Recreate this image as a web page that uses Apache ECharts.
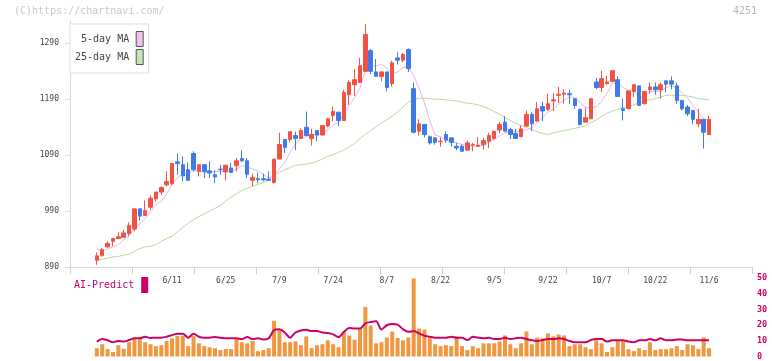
<!DOCTYPE html>
<html><head><meta charset="utf-8">
<script src="https://cdn.jsdelivr.net/npm/echarts@6/dist/echarts.min.js"></script>
<style>html,body{margin:0;padding:0;background:#fff}#c{width:772px;height:361px}</style>
</head><body><div id="c"></div>
<script>
// ---- data ----
const tickLabels = ['6/11','6/25','7/9','7/24','8/7','8/22','9/5','9/22','10/7','10/22','11/6'];
const tickIdx = [14,24,34,44,54,64,74,84,94,104,114];
const priceTicks = [890,990,1090,1190,1290];

const open = [902,910,926,936,941,943,950,958,994,982,
997,1012,1024,1037,1039,1078,1073,1064,1093,1061,
1073,1062,1055,1065,1060,1067,1071,1084,1080,1045,
1048,1048,1047,1041,1083,1118,1118,1125,1120,1140,
1120,1134,1126,1142,1161,1167,1152,1198,1216,1220,
1240,1277,1239,1231,1239,1218,1264,1260,1279,1209,
1133,1145,1123,1121,1114,1127,1121,1106,1106,1099,
1108,1106,1109,1115,1120,1135,1149,1136,1129,1123,
1142,1163,1151,1177,1172,1187,1197,1199,1200,1191,
1172,1149,1155,1221,1211,1218,1222,1225,1173,1173,
1204,1214,1182,1207,1212,1207,1223,1223,1214,1188,
1176,1170,1146,1154,1127];
const close = [910,921,932,941,944,951,964,994,981,991,
1013,1024,1032,1043,1075,1075,1053,1045,1064,1073,
1061,1058,1051,1064,1072,1059,1080,1080,1056,1050,
1046,1046,1045,1083,1109,1104,1132,1120,1134,1125,
1127,1126,1143,1155,1168,1152,1202,1220,1225,1250,
1306,1240,1231,1239,1211,1255,1260,1270,1245,1131,
1146,1127,1112,1113,1115,1117,1113,1103,1097,1112,
1109,1108,1116,1125,1133,1145,1133,1127,1120,1137,
1163,1146,1173,1169,1182,1189,1199,1201,1198,1179,
1145,1157,1191,1211,1227,1221,1241,1195,1170,1205,
1216,1179,1204,1212,1207,1216,1217,1217,1188,1173,
1164,1154,1154,1131,1154];
const low = [894,910,924,927,941,943,945,954,973,982,
992,1007,1019,1034,1037,1055,1043,1045,1061,1052,
1049,1049,1040,1055,1045,1059,1061,1078,1049,1034,
1040,1043,1045,1039,1083,1094,1113,1099,1120,1125,
1107,1115,1126,1140,1151,1142,1152,1180,1196,1220,
1240,1235,1230,1222,1204,1213,1252,1256,1239,1129,
1125,1122,1109,1109,1105,1112,1105,1099,1097,1099,
1097,1105,1100,1103,1118,1129,1133,1119,1120,1123,
1142,1133,1151,1151,1169,1169,1183,1182,1182,1173,
1143,1149,1155,1208,1203,1216,1220,1194,1152,1173,
1194,1179,1181,1200,1198,1191,1203,1208,1182,1170,
1160,1145,1140,1102,1127];
const high = [916,924,936,941,952,957,970,994,994,1009,
1018,1024,1034,1061,1075,1093,1088,1077,1097,1073,
1073,1079,1063,1073,1073,1076,1085,1099,1085,1057,
1059,1057,1061,1083,1130,1118,1132,1132,1138,1168,
1137,1134,1143,1157,1177,1167,1207,1224,1244,1264,
1325,1280,1262,1239,1239,1259,1274,1273,1281,1220,
1154,1145,1125,1121,1122,1133,1121,1112,1109,1116,
1112,1122,1121,1130,1133,1149,1160,1139,1137,1143,
1170,1167,1185,1185,1200,1201,1212,1208,1207,1191,
1173,1175,1191,1228,1241,1232,1241,1231,1191,1205,
1216,1214,1205,1220,1220,1220,1223,1231,1220,1188,
1180,1170,1173,1155,1160];
const ma5 = [922,920,922,926,930,938,946,959,967,976,
989,1001,1008,1021,1037,1050,1056,1058,1062,1062,
1059,1060,1061,1061,1061,1061,1065,1071,1069,1065,
1062,1056,1049,1054,1066,1077,1095,1110,1120,1123,
1128,1126,1131,1135,1144,1149,1164,1179,1193,1210,
1241,1248,1250,1253,1245,1235,1239,1247,1248,1232,
1210,1184,1152,1126,1123,1117,1114,1112,1109,1108,
1107,1106,1108,1114,1118,1125,1130,1133,1132,1132,
1136,1139,1148,1158,1167,1172,1182,1188,1194,1193,
1184,1176,1174,1177,1186,1201,1218,1219,1211,1206,
1205,1193,1195,1203,1204,1204,1211,1214,1209,1202,
1192,1179,1167,1155,1151];
const ma25 = [902,904,906,908,909,911,913,918,923,926,
927,930,936,941,945,953,961,968,975,980,
985,990,995,1000,1008,1015,1021,1027,1031,1034,
1038,1041,1046,1053,1059,1064,1068,1072,1073,1074,
1076,1079,1083,1088,1091,1095,1099,1105,1111,1120,
1127,1134,1141,1148,1153,1160,1167,1176,1185,1190,
1192,1192,1191,1190,1190,1189,1188,1187,1185,1183,
1182,1180,1177,1173,1168,1163,1157,1152,1147,1143,
1140,1136,1132,1129,1127,1130,1132,1134,1136,1138,
1140,1143,1148,1153,1159,1165,1169,1172,1175,1177,
1180,1184,1187,1189,1191,1194,1197,1197,1197,1197,
1196,1194,1191,1190,1189];
const volume = [5.3,7.8,4.7,2.8,7.2,4.9,9.1,11.1,11.1,9.1,
7.8,6.6,7.2,9.9,11.6,13.0,13.2,6.6,13.0,8.4,
6.6,5.9,5.3,4.1,4.7,4.7,11.1,9.1,8.4,9.9,
3.4,4.1,5.3,22.8,16.8,9.1,9.1,9.6,7.2,12.8,
5.3,7.2,7.8,10.3,7.8,5.9,15.7,13.4,10.7,17.8,
31.6,19.7,8.4,9.1,12.1,15.9,11.8,10.3,12.1,49.7,
17.8,17.2,11.6,7.8,6.6,7.2,6.6,12.8,6.6,4.1,
6.6,5.3,8.4,8.4,8.4,9.6,13.4,7.8,5.3,8.4,
15.9,7.8,12.1,11.6,14.7,12.8,14.0,13.4,6.6,7.8,
7.8,5.9,4.7,10.3,8.4,2.8,5.9,10.3,10.3,4.7,
3.4,5.3,4.1,9.1,4.1,4.7,4.7,5.3,6.6,4.1,
7.8,7.2,4.7,12.1,5.3];
const aiPredict = [9.5,11.1,10.3,9.1,9.9,9.5,10.5,11.6,11.6,12.6,
11.8,12.0,12.0,12.6,13.6,14.5,14.5,12.0,14.5,12.6,
12.0,12.0,12.4,12.0,11.6,11.6,11.6,11.1,12.4,11.1,
11.6,10.8,11.6,16.8,17.4,15.3,12.0,15.3,16.6,17.0,
16.2,16.2,15.3,14.9,14.1,12.4,15.7,18.2,17.8,17.8,
21.1,22.0,22.4,17.2,19.9,20.7,20.3,17.4,15.7,16.2,
14.7,13.2,12.6,12.0,12.0,12.0,12.6,12.0,12.0,10.5,
12.6,12.0,11.6,12.0,11.1,11.1,12.0,11.1,11.6,12.0,
11.1,10.3,9.9,10.5,11.1,11.1,11.6,11.1,9.9,9.1,
9.1,9.1,10.5,11.1,11.1,9.5,10.3,10.3,10.3,9.5,
9.1,10.3,10.3,11.1,10.3,11.6,10.3,10.3,10.8,10.8,
10.3,10.3,10.3,10.3,10.3];

// ---- build ----
const FONT = 'DejaVu Sans Mono';
const PAD_L = 5, PAD_R = 8;
const N = open.length;
const cats = [];
for (let i = 0; i < PAD_L + N + PAD_R; i++) cats.push('');
tickIdx.forEach((d, j) => { cats[PAD_L + d] = tickLabels[j]; });
const kData = open.map((o, i) => [PAD_L + i, o, close[i], low[i], high[i]]);
const pair = a => a.map((v, i) => [PAD_L + i, v]);

const UP = '#f25243', DOWN = '#3f7ae9', AI = '#cc0066', AXIS = '#d8d8d8';
const chart = echarts.init(document.getElementById('c'), null, {renderer: 'canvas'});
chart.setOption({
  animation: false,
  backgroundColor: '#fff',
  textStyle: {fontFamily: FONT},
  graphic: [
    {type: 'text', left: 14, top: 6, style: {text: '(C)https://chartnavi.com/', fill: '#c8c8c8', font: '10px "DejaVu Sans Mono"'}},
    {type: 'text', right: 15, top: 6, style: {text: '4251', fill: '#b4b4b4', font: '10px "DejaVu Sans Mono"'}}
  ],
  grid: [
    {left: 70, right: 20, top: 21, height: 246},
    {left: 70, right: 20, top: 278, height: 80}
  ],
  legend: [
    {
      left: 70, top: 24, orient: 'vertical', align: 'right', selectedMode: false,
      itemWidth: 7, itemHeight: 15, itemGap: 2, padding: [7, 5, 8, 5],
      borderColor: '#dddddd', borderWidth: 1, backgroundColor: '#fff',
      textStyle: {fontFamily: FONT, fontSize: 10, color: '#444', padding: [0, 2, 0, 0]},
      data: [
        {name: '5-day MA', icon: 'rect', itemStyle: {color: '#f0c0f0', borderColor: '#555', borderWidth: 1}},
        {name: '25-day MA', icon: 'rect', itemStyle: {color: '#c4e4b4', borderColor: '#555', borderWidth: 1}}
      ]
    },
    {
      left: 74, top: 277, orient: 'vertical', align: 'right', selectedMode: false,
      itemWidth: 7, itemHeight: 16, padding: 0,
      textStyle: {fontFamily: FONT, fontSize: 10, color: AI, padding: [0, 2, 0, 0]},
      data: [{name: 'AI-Predict', icon: 'rect', itemStyle: {color: AI}}]
    }
  ],
  xAxis: [
    {
      type: 'value', gridIndex: 0, min: 0, max: 11, interval: 1, position: 'bottom',
      axisLine: {show: true, lineStyle: {color: AXIS}}, axisLabel: {show: false}, splitLine: {show: false},
      axisTick: {show: true, length: 7, lineStyle: {color: '#cfcfcf', width: 1}}
    },
    {
      type: 'category', gridIndex: 0, data: cats, boundaryGap: false, position: 'bottom',
      axisLine: {show: false},
      axisTick: {show: false},
      axisLabel: {interval: 0, fontFamily: FONT, fontSize: 8, color: '#444', margin: 10},
      splitLine: {show: false}
    },
    {
      type: 'category', gridIndex: 1, data: cats, boundaryGap: false,
      axisLine: {show: false}, axisTick: {show: false}, axisLabel: {show: false}, splitLine: {show: false}
    }
  ],
  yAxis: [
    {
      type: 'value', gridIndex: 0, min: 890, max: 1330,
      axisLine: {show: true, lineStyle: {color: AXIS}},
      axisTick: {show: true, length: 5, customValues: priceTicks, lineStyle: {color: AXIS}},
      axisLabel: {customValues: priceTicks, formatter: v => String(v), fontFamily: FONT, fontSize: 8, color: '#444', margin: 11},
      splitLine: {show: false}
    },
    {
      type: 'value', gridIndex: 1, min: 0, max: 50, interval: 10, position: 'right',
      axisLine: {show: false}, axisTick: {show: false}, splitLine: {show: false},
      axisLabel: {fontFamily: FONT, fontSize: 8.5, color: AI, margin: 5, fontWeight: 'bold'}
    }
  ],
  series: [
    {
      name: '25-day MA', type: 'line', xAxisIndex: 1, yAxisIndex: 0, data: pair(ma25),
      symbol: 'none', lineStyle: {color: '#b4dca0', width: 1}, itemStyle: {color: '#c4e4b4'}, z: 1
    },
    {
      name: '5-day MA', type: 'line', xAxisIndex: 1, yAxisIndex: 0, data: pair(ma5),
      symbol: 'none', lineStyle: {color: '#e8b4ec', width: 1}, itemStyle: {color: '#f0c0f0'}, z: 1
    },
    {
      name: 'K', type: 'candlestick', xAxisIndex: 1, yAxisIndex: 0, data: kData,
      encode: {x: 0, y: [1, 2, 3, 4]}, barWidth: 4, z: 3,
      itemStyle: {color: UP, color0: DOWN, borderColor: UP, borderColor0: DOWN, borderWidth: 1}
    },
    {
      name: 'Volume', type: 'bar', xAxisIndex: 2, yAxisIndex: 1, data: pair(volume),
      barWidth: 4, itemStyle: {color: '#f29640'}, z: 1
    },
    {
      name: 'AI-Predict', type: 'line', xAxisIndex: 2, yAxisIndex: 1, data: pair(aiPredict),
      symbol: 'none', smooth: 0.3, lineStyle: {color: AI, width: 2}, itemStyle: {color: AI}, z: 3
    }
  ]
});
</script></body></html>
